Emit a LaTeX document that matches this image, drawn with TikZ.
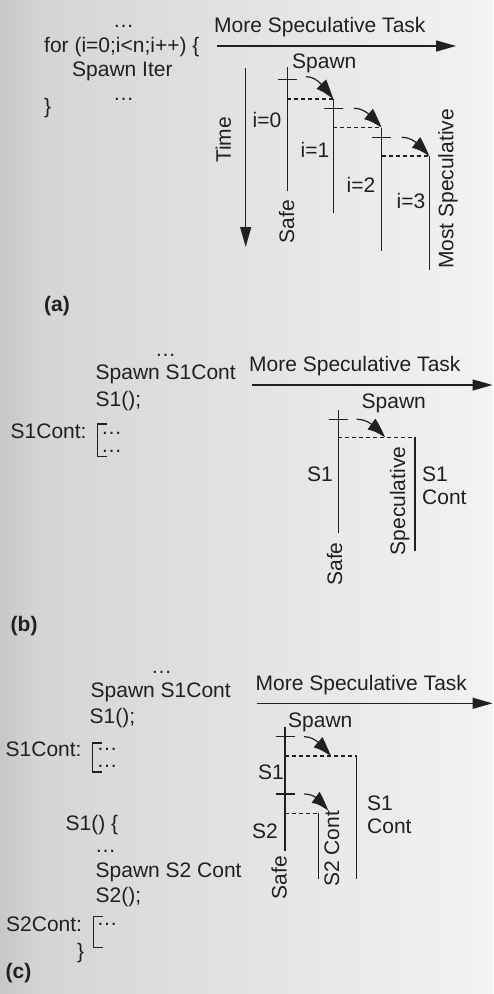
\documentclass[tikz,border=0pt]{standalone}
\usepackage{fontspec}
\setmainfont{Liberation Sans}
\usetikzlibrary{arrows.meta,bending}
\definecolor{ink}{RGB}{35,31,32}
\definecolor{bgA}{RGB}{198,199,201}
\definecolor{bgB}{RGB}{212,213,215}
\definecolor{bgC}{RGB}{243,243,244}
\begin{document}
\begin{tikzpicture}[x=1pt,y=-1pt,
  lbl/.style={font=\fontsize{21}{25}\selectfont, text=ink, inner sep=0pt, anchor=base west},
  dotrow/.style={lbl, text height=3pt, text depth=0pt},
  vlbl/.style={font=\fontsize{21}{25}\selectfont, text=ink, inner sep=0pt,
    text height=15pt, text depth=0pt, rotate=90, anchor=center},
  tag/.style={lbl, font=\fontsize{21}{25}\selectfont\bfseries},
  tline/.style={draw=ink, line width=1.2pt},
  dline/.style={draw=ink, line width=1.1pt, dash pattern=on 4pt off 3pt},
  axisarrow/.style={draw=ink, line width=1.3pt, -{Triangle[length=20pt,width=11pt]}},
  spawnarrow/.style={draw=ink, line width=1.2pt, -{Triangle[length=21pt,width=13pt,bend]}},
  bracket/.style={draw=ink, line width=1.2pt}
]
% background
\useasboundingbox (0,0) rectangle (493,994);
\shade[left color=bgA, right color=bgB] (0,0) rectangle (40.5,994);
\shade[left color=bgB, right color=bgC] (40,0) rectangle (493,994);

% ---------------- (a) loop iterations ----------------
\node[dotrow] (a-dots1) at (113,27) {…};
\node[lbl] (a-for) at (44,52) {for (i=0;i<n;i++) \{};
\node[lbl] (a-iter) at (72,76) {Spawn Iter};
\node[dotrow] (a-dots2) at (113,100) {…};
\node[lbl] (a-close) at (44,113) {\}};
\node[tag] (a-tag) at (44,311) {(a)};

\node[lbl] (a-title) at (214,32) {More Speculative Task};
\coordinate (a-ax-s) at (217,46);
\coordinate (a-ax-e) at (456,46);
\draw[axisarrow] (a-ax-s) -- (a-ax-e);

\node[vlbl] (a-time) at (223.3,140) {Time};
\coordinate (a-t-s) at (245.7,68);
\coordinate (a-t-e) at (245.7,247);
\draw[axisarrow] (a-t-s) -- (a-t-e);

\node[lbl] (a-spawn) at (292,68) {Spawn};

% task lines
\coordinate (a-l0-top) at (287.3,66.7);
\coordinate (a-l0-bot) at (287.3,190.7);
\coordinate (a-l0-fork) at (287.3,99);
\coordinate (a-l1-top) at (333.3,99);
\coordinate (a-l1-bot) at (333.3,213.3);
\coordinate (a-l1-fork) at (333.3,127.7);
\coordinate (a-l2-top) at (381.7,127.7);
\coordinate (a-l2-bot) at (381.7,251);
\coordinate (a-l2-fork) at (381.7,156);
\coordinate (a-l3-top) at (429.3,156);
\coordinate (a-l3-bot) at (429.3,270);

\draw[tline] (a-l0-top) -- (a-l0-bot);
\draw[tline] (a-l1-top) -- (a-l1-bot);
\draw[tline] (a-l2-top) -- (a-l2-bot);
\draw[tline] (a-l3-top) -- (a-l3-bot);
\draw[dline] (a-l0-fork) -- (a-l1-top);
\draw[dline] (a-l1-fork) -- (a-l2-top);
\draw[dline] (a-l2-fork) -- (a-l3-top);

% spawn ticks
\draw[tline] (277.8,79.3) -- (296.8,79.3);
\draw[tline] (323.8,108.3) -- (342.8,108.3);
\draw[tline] (372.2,137.3) -- (391.2,137.3);

% spawn arrows
\coordinate (a-s0) at (306,76.7);
\coordinate (a-s1) at (354,108.3);
\coordinate (a-s2) at (401.7,137.3);
\draw[spawnarrow] (a-s0) .. controls +(10,0) and +(-11,-15) .. (a-l1-top);
\draw[spawnarrow] (a-s1) .. controls +(10,0) and +(-11,-13) .. (a-l2-top);
\draw[spawnarrow] (a-s2) .. controls +(10,0) and +(-11,-13) .. (a-l3-top);

\node[lbl] (a-i0) at (252.5,127) {i=0};
\node[lbl] (a-i1) at (300.5,157) {i=1};
\node[lbl] (a-i2) at (346.5,192.5) {i=2};
\node[lbl] (a-i3) at (396.5,208) {i=3};
\node[vlbl] (a-safe) at (286.7,221.7) {Safe};
\node[vlbl] (a-most) at (445.8,189) {Most Speculative};

% ---------------- (b) subroutine continuation ----------------
\node[dotrow] (b-dots) at (155,356) {…};
\node[lbl] (b-spawn) at (95.5,379) {Spawn S1Cont};
\node[lbl] (b-call) at (95.5,406) {S1();};
\node[lbl] (b-cont) at (10.5,438) {S1Cont:};
\draw[bracket] (106.5,424) -- (97.3,424) -- (97.3,456.3) -- (106.5,456.3);
\node[dotrow] (b-d1) at (101,434) {…};
\node[dotrow] (b-d2) at (101,452) {…};
\node[tag] (b-tag) at (10.5,631) {(b)};

\node[lbl] (b-title) at (249,371) {More Speculative Task};
\coordinate (b-ax-s) at (252.3,385);
\coordinate (b-ax-e) at (492.5,385);
\draw[axisarrow] (b-ax-s) -- (b-ax-e);

\node[lbl] (b-spawnlbl) at (361.5,408.5) {Spawn};
\coordinate (b-s1-top) at (338.3,410);
\coordinate (b-s1-bot) at (338.3,533.3);
\coordinate (b-s1-fork) at (338.3,437.3);
\coordinate (b-c-top) at (415,437.3);
\coordinate (b-c-bot) at (415,551);
\coordinate (b-arr-s) at (356.7,419.3);
\coordinate (b-arr-e) at (385,437.3);
\draw[tline] (b-s1-top) -- (b-s1-bot);
\draw[tline] (328.8,419.3) -- (347.8,419.3);
\draw[dline] (b-s1-fork) -- (b-c-top);
\draw[tline] (b-c-top) -- (b-c-bot);
\draw[spawnarrow] (b-arr-s) .. controls +(10,0) and +(-11,-13) .. (b-arr-e);

\node[lbl] (b-s1) at (307,481.5) {S1};
\node[lbl] (b-s1c1) at (422,481.5) {S1};
\node[lbl] (b-s1c2) at (422,504) {Cont};
\node[vlbl] (b-spec) at (397.5,501) {Speculative};
\node[vlbl] (b-safe) at (334.7,564) {Safe};

% ---------------- (c) nested continuations ----------------
\node[dotrow] (c-dots1) at (151,673) {…};
\node[lbl] (c-spawn1) at (90.5,697.5) {Spawn S1Cont};
\node[lbl] (c-call1) at (89.5,723) {S1();};
\node[lbl] (c-cont1) at (5.5,756.5) {S1Cont:};
\draw[bracket] (102,743) -- (92.7,743) -- (92.7,772) -- (102,772);
\node[dotrow] (c-d1) at (96.5,750.5) {…};
\node[dotrow] (c-d2) at (96.5,767.5) {…};
\node[lbl] (c-s1def) at (65.5,830) {S1() \{};
\node[dotrow] (c-dots2) at (95,852) {…};
\node[lbl] (c-spawn2) at (95.5,877) {Spawn S2 Cont};
\node[lbl] (c-call2) at (95.5,902) {S2();};
\node[lbl] (c-cont2) at (6,931.5) {S2Cont:};
\draw[bracket] (102.7,916.7) -- (93.3,916.7) -- (93.3,947.3) -- (102.7,947.3);
\node[dotrow] (c-d3) at (96.5,925.5) {…};
\node[lbl] (c-close) at (77,958) {\}};
\node[tag] (c-tag) at (5.5,978) {(c)};

\node[lbl] (c-title) at (255.5,690.5) {More Speculative Task};
\coordinate (c-ax-s) at (257.3,703.3);
\coordinate (c-ax-e) at (492.5,703.3);
\draw[axisarrow] (c-ax-s) -- (c-ax-e);

\node[lbl] (c-spawnlbl) at (288,727.5) {Spawn};
\coordinate (c-m-top) at (285,726.7);
\coordinate (c-m-bot) at (285,850.7);
\coordinate (c-m-fork1) at (285,756);
\coordinate (c-m-fork2) at (285,813.3);
\coordinate (c-c1-top) at (356.7,756);
\coordinate (c-c1-bot) at (356.7,879.3);
\coordinate (c-c2-top) at (318.3,813.3);
\coordinate (c-c2-bot) at (318.3,879.3);
\draw[tline] (c-m-top) -- (c-m-bot);
\draw[tline] (275.5,736.7) -- (294.5,736.7);
\draw[tline] (275.5,794) -- (294.5,794);
\draw[dline] (c-m-fork1) -- (c-c1-top);
\draw[dline] (c-m-fork2) -- (c-c2-top);
\draw[tline] (c-c1-top) -- (c-c1-bot);
\draw[tline] (c-c2-top) -- (c-c2-bot);
\coordinate (c-a1-s) at (304,736.7);
\coordinate (c-a1-e) at (331,756);
\coordinate (c-a2-s) at (304,794);
\coordinate (c-a2-e) at (328.3,810.5);
\draw[spawnarrow] (c-a1-s) .. controls +(10,0) and +(-11,-13) .. (c-a1-e);
\draw[spawnarrow] (c-a2-s) .. controls +(10,0) and +(-10,-12) .. (c-a2-e);

\node[lbl] (c-s1) at (258,779) {S1};
\node[lbl] (c-s2) at (252,838) {S2};
\node[lbl] (c-s1c1) at (367,810) {S1};
\node[lbl] (c-s1c2) at (367,833) {Cont};
\node[vlbl] (c-s2c) at (331.7,848.8) {S2 Cont};
\node[vlbl] (c-safe) at (279,877.5) {Safe};
\end{tikzpicture}
\end{document}
